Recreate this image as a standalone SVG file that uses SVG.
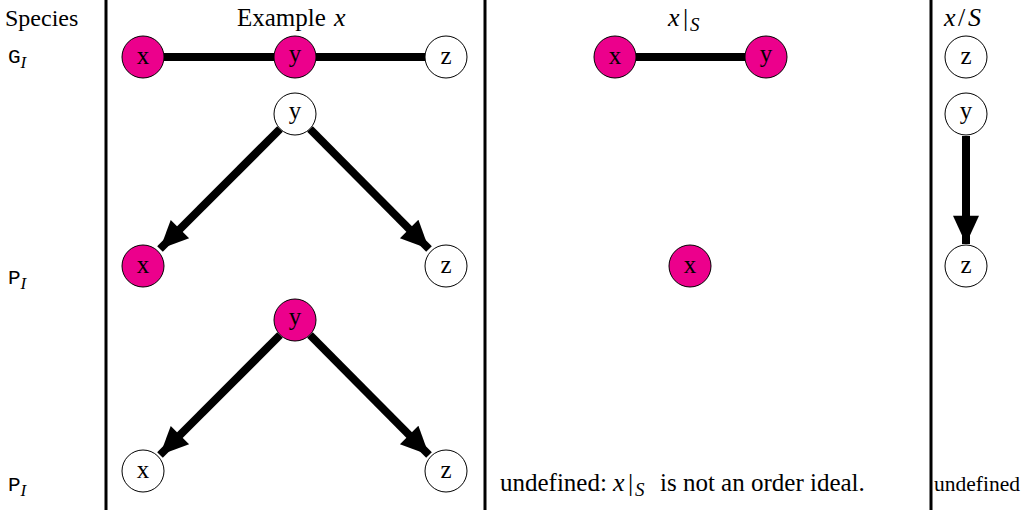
<svg xmlns="http://www.w3.org/2000/svg" width="1023" height="510" viewBox="0 0 1023 510">
<style>
.t{font-family:"Liberation Serif","Times New Roman",serif;font-size:24px;fill:#000}
.m{font-family:"Liberation Serif",serif;font-style:italic}
.tt{font-family:"Liberation Mono","DejaVu Sans Mono",monospace;font-size:21px}
.nl{font-family:"Liberation Serif",serif;font-size:25px;text-anchor:middle}
.p circle{fill:#EC008C;stroke:#000;stroke-width:1}
.w circle{fill:#fff;stroke:#000;stroke-width:1}
.e{stroke:#000;stroke-width:8;fill:none}
.v{stroke:#000;stroke-width:3}
</style>
<defs>
<marker id="ah" markerUnits="userSpaceOnUse" markerWidth="30" markerHeight="26" refX="26" refY="12" orient="auto" viewBox="0 0 26 24">
<path d="M0,0 L26,12 L0,24 Z" fill="#000"/>
</marker>
</defs>
<rect width="1023" height="510" fill="#fff"/>
<g id="dividers">
<line class="v" x1="106" y1="0" x2="106" y2="510"/>
<line class="v" x1="485" y1="0" x2="485" y2="510"/>
<line class="v" x1="931" y1="0" x2="931" y2="510"/>
</g>
<g id="headers">
<text class="t" x="5" y="26">Species</text>
<text class="t" x="237" y="26" style="font-size:25px">Example<tspan class="m" x="334" style="font-size:26px">x</tspan></text>
<text class="t" y="26"><tspan class="m" x="668" style="font-size:26px">x</tspan><tspan x="683" style="font-size:26px">|</tspan><tspan class="m" x="690" dy="5" style="font-size:19px">S</tspan></text>
<text class="t" y="26" style="font-size:26px"><tspan class="m" x="944">x</tspan><tspan x="958">/</tspan><tspan class="m" x="968">S</tspan></text>
<text class="tt" x="8" y="63">G<tspan class="m" dy="5" style="font-size:17px">I</tspan></text>
<text class="tt" x="8" y="284">P<tspan class="m" dy="5" style="font-size:17px">I</tspan></text>
<text class="tt" x="8" y="491">P<tspan class="m" dy="5" style="font-size:17px">I</tspan></text>
<text class="t" y="491" style="font-size:25px"><tspan x="500">undefined:</tspan><tspan class="m" x="613" style="font-size:26px">x</tspan><tspan x="628" style="font-size:26px">|</tspan><tspan class="m" x="635" dy="5" style="font-size:19px">S</tspan><tspan x="660" dy="-5">is not an order ideal.</tspan></text>
<text class="t" x="977" y="491" style="font-size:21.5px" text-anchor="middle">undefined</text>
</g>
<g id="connectors">
<line class="e" x1="164" y1="57" x2="274" y2="57"/>
<line class="e" x1="316" y1="57" x2="425" y2="57"/>
<line class="e" x1="636" y1="57" x2="745" y2="57"/>
<line class="e" x1="280" y1="129" x2="160" y2="249" marker-end="url(#ah)"/>
<line class="e" x1="310" y1="129" x2="429" y2="249" marker-end="url(#ah)"/>
<line class="e" x1="280" y1="335" x2="160" y2="455" marker-end="url(#ah)"/>
<line class="e" x1="310" y1="335" x2="429" y2="455" marker-end="url(#ah)"/>
<line class="e" x1="966" y1="136" x2="966" y2="244" marker-end="url(#ah)"/>
</g>
<g id="n1" class="p"><circle cx="143" cy="57" r="21"/><text class="nl" x="143" y="64">x</text></g>
<g id="n2" class="p"><circle cx="295" cy="57" r="21"/><text class="nl" x="295" y="62">y</text></g>
<g id="n3" class="w"><circle cx="446" cy="57" r="21"/><text class="nl" x="446" y="64">z</text></g>
<g id="n4" class="w"><circle cx="295" cy="114" r="21"/><text class="nl" x="295" y="119">y</text></g>
<g id="n5" class="p"><circle cx="143" cy="266" r="21"/><text class="nl" x="143" y="273">x</text></g>
<g id="n6" class="w"><circle cx="446" cy="266" r="21"/><text class="nl" x="446" y="273">z</text></g>
<g id="n7" class="p"><circle cx="295" cy="320" r="21"/><text class="nl" x="295" y="325">y</text></g>
<g id="n8" class="w"><circle cx="143" cy="471" r="21"/><text class="nl" x="143" y="478">x</text></g>
<g id="n9" class="w"><circle cx="446" cy="471" r="21"/><text class="nl" x="446" y="478">z</text></g>
<g id="n10" class="p"><circle cx="615" cy="57" r="21"/><text class="nl" x="615" y="64">x</text></g>
<g id="n11" class="p"><circle cx="766" cy="57" r="21"/><text class="nl" x="766" y="62">y</text></g>
<g id="n12" class="p"><circle cx="690" cy="266" r="21"/><text class="nl" x="690" y="273">x</text></g>
<g id="n13" class="w"><circle cx="966" cy="57" r="21"/><text class="nl" x="966" y="64">z</text></g>
<g id="n14" class="w"><circle cx="966" cy="114" r="21"/><text class="nl" x="966" y="119">y</text></g>
<g id="n15" class="w"><circle cx="966" cy="266" r="21"/><text class="nl" x="966" y="273">z</text></g>
</svg>
